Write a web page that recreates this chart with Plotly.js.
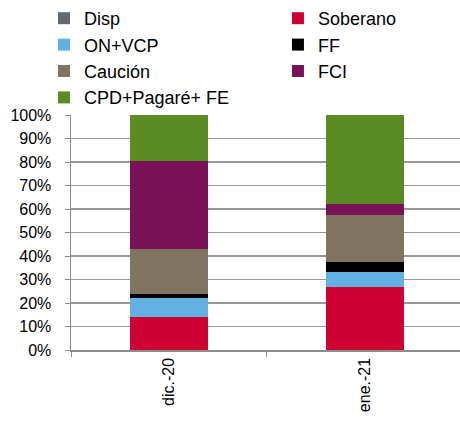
<!DOCTYPE html>
<html>
<head>
<meta charset="utf-8">
<script src="https://cdn.plot.ly/plotly-3.0.1.min.js"></script>
<style>html,body{margin:0;padding:0;background:#fff}#chart{width:460px;height:426px}</style>
</head>
<body>
<div id="chart"></div>
<script>
var categories = ["dic.-20", "ene.-21"];
var seriesNames = ["Disp", "Soberano", "ON+VCP", "FF", "Caución", "FCI", "CPD+Pagaré+ FE"];
var disp      = [0.0, 0.0];
var soberano  = [14.0, 26.7];
var onvcp     = [8.2, 6.3];
var ff        = [1.7, 4.6];
var caucion   = [19.0, 20.0];
var fci       = [37.6, 4.7];
var cpd       = [19.5, 37.7];
var yTicks = [0, 10, 20, 30, 40, 50, 60, 70, 80, 90, 100];
var yTickLabels = ["0%", "10%", "20%", "30%", "40%", "50%", "60%", "70%", "80%", "90%", "100%"];

var seriesValues = [disp, soberano, onvcp, ff, caucion, fci, cpd];
var colors = ["#5f6b73", "#cc0033", "#63b0e3", "#000000", "#807461", "#7a1257", "#5b8c23"];

// legend laid out in two columns, row by row (Excel style)
var traces = seriesNames.map(function (n, i) {
  return {
    type: "bar",
    name: n,
    x: categories,
    y: seriesValues[i],
    marker: { color: colors[i], line: { width: 0 } },
    width: 0.4,
    legend: (i % 2 === 0) ? "legend" : "legend2"
  };
});

var legendCommon = {
  orientation: "v",
  yanchor: "top",
  xanchor: "left",
  y: 1.487,
  traceorder: "normal",
  bgcolor: "rgba(0,0,0,0)",
  borderwidth: 0,
  font: { size: 18, color: "#000" },
  tracegroupgap: 0,
  itemwidth: 30
};

var layout = {
  width: 460,
  height: 426,
  barmode: "stack",
  margin: { l: 71, r: 0, t: 114, b: 76, pad: 0 },
  paper_bgcolor: "#fff",
  plot_bgcolor: "#fff",
  font: { family: "Liberation Sans, Arial, sans-serif", size: 16, color: "#000" },
  showlegend: true,
  legend: Object.assign({}, legendCommon, { x: -0.0694 }),
  legend2: Object.assign({}, legendCommon, { x: 0.532 }),
  xaxis: {
    type: "category",
    range: [-0.5, 1.485],
    tickangle: -90,
    tickson: "boundaries",
    ticks: "outside",
    ticklen: 5,
    tickcolor: "#8c8c8c",
    showline: true,
    linecolor: "#8c8c8c",
    linewidth: 1.5,
    showgrid: false,
    tickfont: { size: 16 },
    fixedrange: true
  },
  yaxis: {
    range: [0, 100],
    tickvals: yTicks,
    ticktext: yTickLabels,
    ticks: "outside",
    ticklen: 5,
    tickcolor: "#8c8c8c",
    showline: true,
    linecolor: "#8c8c8c",
    linewidth: 1.5,
    showgrid: true,
    gridcolor: "#999999",
    gridwidth: 1.5,
    zeroline: false,
    ticklabelstandoff: 10,
    tickfont: { size: 16 },
    fixedrange: true
  }
};

Plotly.newPlot("chart", traces, layout, { displayModeBar: false, staticPlot: true });
</script>
</body>
</html>
